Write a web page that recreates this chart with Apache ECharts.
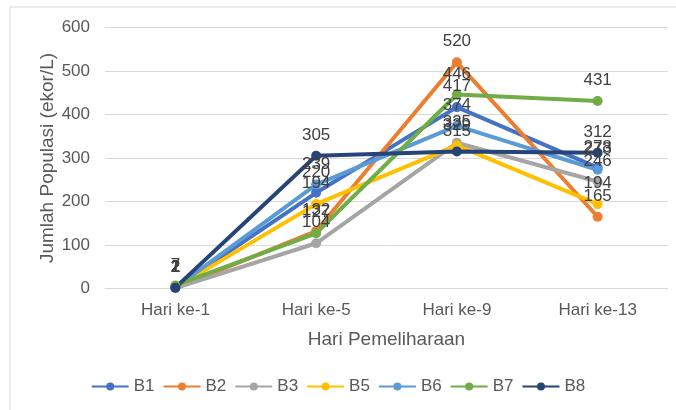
<!DOCTYPE html>
<html>
<head>
<meta charset="utf-8">
<script src="https://cdn.jsdelivr.net/npm/echarts@6/dist/echarts.min.js"></script>
<style>html,body{margin:0;padding:0;background:#fff;}#c{width:676px;height:410px;}</style>
</head>
<body>
<div id="c"></div>
<script>
const categories = ['Hari ke-1', 'Hari ke-5', 'Hari ke-9', 'Hari ke-13'];
const seriesNames = ['B1', 'B2', 'B3', 'B5', 'B6', 'B7', 'B8'];
const B1 = [2, 220, 417, 278];
const B2 = [1, 132, 520, 165];
const B3 = [1, 104, 335, 246];
const B5 = [2, 194, 329, 194];
const B6 = [2, 239, 374, 273];
const B7 = [7, 127, 446, 431];
const B8 = [2, 305, 315, 312];
const yTicks = [0, 100, 200, 300, 400, 500, 600];
const colors = ['#4472C4', '#ED7D31', '#A5A5A5', '#FFC000', '#5B9BD5', '#70AD47', '#264478'];
const dataSets = [B1, B2, B3, B5, B6, B7, B8];

const chart = echarts.init(document.getElementById('c'), null, {renderer: 'canvas'});
const font = 'Liberation Sans, Arial, sans-serif';
chart.setOption({
  animation: false,
  backgroundColor: '#fff',
  textStyle: {fontFamily: font},
  graphic: [
    {type: 'line', shape: {x1: 10, y1: 7, x2: 676, y2: 7}, style: {stroke: '#d9d9d9', lineWidth: 1}},
    {type: 'line', shape: {x1: 10, y1: 7, x2: 10, y2: 410}, style: {stroke: '#d9d9d9', lineWidth: 1}}
  ],
  grid: {left: 105, right: 8, top: 27.5, bottom: 121.5},
  legend: {
    data: seriesNames,
    bottom: 10,
    left: 'center',
    itemWidth: 37,
    itemHeight: 10,
    itemGap: 8,
    textStyle: {color: '#595959', fontSize: 17, fontFamily: font}
  },
  xAxis: {
    type: 'category',
    data: categories,
    boundaryGap: true,
    name: 'Hari Pemeliharaan',
    nameLocation: 'middle',
    nameGap: 42,
    nameMoveOverlap: false,
    nameTextStyle: {color: '#595959', fontSize: 19, fontFamily: font},
    axisLine: {lineStyle: {color: '#d9d9d9', width: 1}},
    axisTick: {show: false},
    axisLabel: {color: '#595959', fontSize: 17, margin: 13, fontFamily: font}
  },
  yAxis: {
    type: 'value',
    min: yTicks[0],
    max: yTicks[yTicks.length - 1],
    interval: 100,
    name: 'Jumlah Populasi (ekor/L)',
    nameLocation: 'middle',
    nameGap: 48,
    nameMoveOverlap: false,
    nameTextStyle: {color: '#595959', fontSize: 19, fontFamily: font},
    axisLine: {show: false},
    axisTick: {show: false},
    splitLine: {lineStyle: {color: '#d9d9d9', width: 1}},
    axisLabel: {color: '#595959', fontSize: 17, margin: 15, fontFamily: font}
  },
  series: seriesNames.map((n, i) => ({
    name: n,
    type: 'line',
    data: dataSets[i],
    color: colors[i],
    symbol: 'circle',
    symbolSize: 10,
    lineStyle: {width: 4, color: colors[i]},
    itemStyle: {color: colors[i]},
    label: {show: true, position: 'top', distance: 7, color: '#404040', fontSize: 17, fontFamily: font}
  }))
});
</script>
</body>
</html>
